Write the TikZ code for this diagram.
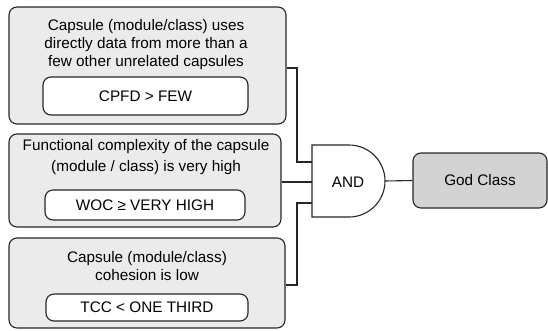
\documentclass[tikz,border=0pt]{standalone}
\usepackage{fontspec}
\setmainfont{Liberation Sans}
\definecolor{outerfill}{HTML}{EBEBEB}
\definecolor{godfill}{HTML}{D3D3D3}
\begin{document}
\begin{tikzpicture}[x=1pt,y=-1pt,
  line width=1.1pt,
  outerbox/.style={draw=black!85, fill=outerfill, rounded corners=8pt, inner sep=0pt},
  innerbox/.style={draw=black!85, fill=white, rounded corners=8pt, inner sep=0pt, font=\fontsize{15.3}{18}\selectfont},
  label/.style={align=center, font=\fontsize{15.3}{18.2}\selectfont, inner sep=0pt},
  godbox/.style={draw=black!85, fill=godfill, rounded corners=8pt, inner sep=0pt, font=\fontsize{15.3}{18}\selectfont},
  wire/.style={draw=black!85, line width=1.1pt}]
\useasboundingbox (0,0) rectangle (548,330);
% outer boxes
\node (b1) [outerbox, minimum width=277pt, minimum height=117pt] at (147.5,65.5) {};
\node (b2) [outerbox, minimum width=272pt, minimum height=93pt] at (145,180.5) {};
\node (b3) [outerbox, minimum width=276pt, minimum height=90pt] at (147,283) {};
% descriptions
\node (t1) [label] at (146,44.5) {Capsule (module/class) uses\\directly data from more than a\\few other unrelated capsules};
\node (t2) [label, font=\fontsize{15.3}{21}\selectfont] at (146,157.5) {Functional complexity of the capsule\\(module / class) is very high};
\node (t3) [label] at (147,266) {Capsule (module/class)\\cohesion is low};
% inner boxes
\node (i1) [innerbox, minimum width=205pt, minimum height=38pt] at (145.5,96) {CPFD > FEW};
\node (i2) [innerbox, minimum width=200pt, minimum height=30pt] at (145,205) {WOC ≥ VERY HIGH};
\node (i3) [innerbox, minimum width=202pt, minimum height=27pt] at (147,307.5) {TCC < ONE THIRD};
% AND gate
\coordinate (gin1) at (312,162);
\coordinate (gin2) at (312,182);
\coordinate (gin3) at (312,203);
\coordinate (gout) at (385,181);
\draw[wire, fill=white] (312,145) -- (349,145) arc[start angle=-90, end angle=90, radius=36] -- (312,217) -- cycle;
\node (and) [font=\fontsize{15.3}{18}\selectfont, inner sep=0pt] at (348,182) {AND};
% God class
\node (god) [godbox, minimum width=134pt, minimum height=55pt] at (480,180.5) {God Class};
% connectors
\draw[wire] ([yshift=-2.5pt]b1.east) -- (297,68) |- (gin1);
\draw[wire] ([yshift=-1.5pt]b2.east) -- (gin2);
\draw[wire] ([yshift=-2pt]b3.east) -- (297,285) |- (gin3);
\draw[wire] (gout) -- (god.west);
\end{tikzpicture}
\end{document}
